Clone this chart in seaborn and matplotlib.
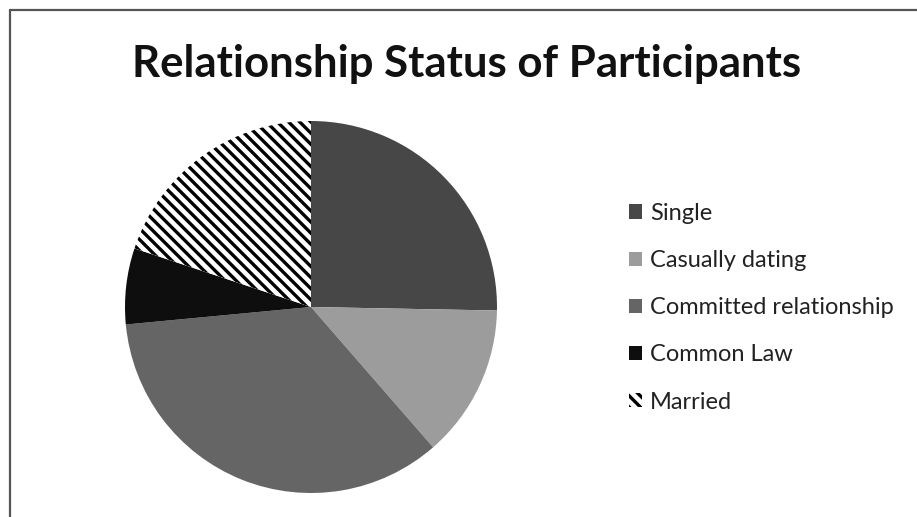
import matplotlib
matplotlib.use("Agg")
import matplotlib.pyplot as plt
import seaborn as sns
from matplotlib.patches import Patch
from matplotlib.lines import Line2D

categories = ["Single", "Casually dating", "Committed relationship", "Common Law", "Married"]
values = [25.3, 13.3, 34.9, 6.6, 19.9]
colors = ["#474747", "#9c9c9c", "#656565", "#0e0e0e", "#ffffff"]
hatches = [None, None, None, None, "\\\\\\"]
title = "Relationship Status of Participants"

sns.set_theme(style="white")
plt.rcParams["font.family"] = ["Lato", "DejaVu Sans"]
plt.rcParams["hatch.linewidth"] = 2.4

W, H = 917, 517
fig = plt.figure(figsize=(W / 100, H / 100), dpi=100)
fig.patch.set_facecolor("white")

cx, cy, r = 311, 307, 186
ax = fig.add_axes([(cx - r) / W, (H - cy - r) / H, 2 * r / W, 2 * r / H])
wedges, _ = ax.pie(values, colors=colors, startangle=90, counterclock=False,
                   radius=1, wedgeprops=dict(linewidth=0))
for w, h in zip(wedges, hatches):
    if h:
        w.set_hatch(h)
        w.set_edgecolor("black")
        w.set_linewidth(0)
ax.set_xlim(-1, 1)
ax.set_ylim(-1, 1)
ax.set_aspect("equal")
ax.axis("off")

fig.text(467 / W, 1 - 64 / H, title, ha="center", va="center",
         fontsize=31.5, fontweight="bold", color="#111111")

handles = []
for c, h in zip(colors, hatches):
    if h:
        handles.append(Patch(facecolor="white", edgecolor="black", hatch=h, linewidth=0))
    else:
        handles.append(Patch(facecolor=c, edgecolor="none"))
fig.legend(handles, categories, loc="upper left",
           bbox_to_anchor=(617 / W, 1 - 191 / H), frameon=False,
           fontsize=17, labelspacing=1.11, handlelength=0.55, handleheight=0.55,
           handletextpad=0.35, borderpad=0, labelcolor="#222222")

# figure frame lines (top and left)
fig.add_artist(Line2D([10 / W, 1], [1 - 10 / H, 1 - 10 / H], transform=fig.transFigure,
                      color="#555555", linewidth=1.6))
fig.add_artist(Line2D([10 / W, 10 / W], [0, 1 - 10 / H], transform=fig.transFigure,
                      color="#555555", linewidth=1.6))

fig.savefig("out.png", dpi=100)
